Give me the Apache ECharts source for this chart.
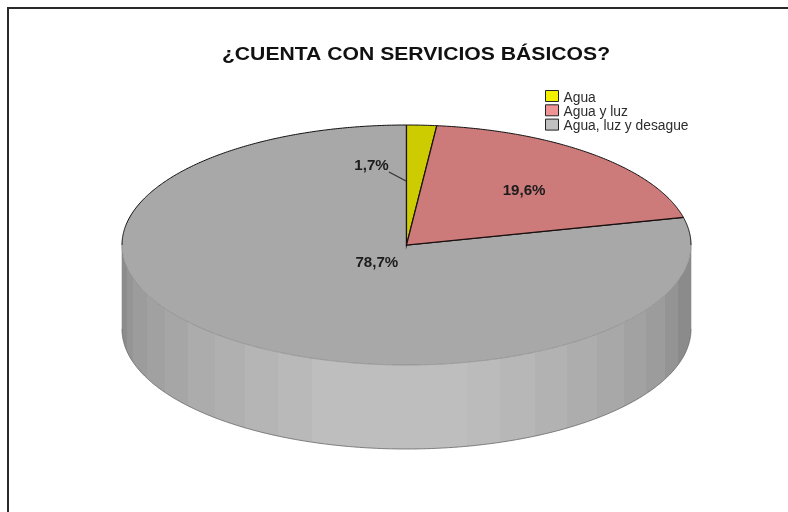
<!DOCTYPE html>
<html>
<head>
<meta charset="utf-8">
<style>html,body{margin:0;padding:0;background:#fff}#chart{width:788px;height:512px}</style>
<script src="https://cdn.jsdelivr.net/npm/echarts@6/dist/echarts.min.js"></script>
</head>
<body>
<div id="chart"></div>
<script>
// Survey answers and their shares, in percent
const categories = ['Agua', 'Agua y luz', 'Agua, luz y desague'];
const shares = [1.7, 19.6, 78.7];
const chartTitle = '¿CUENTA CON SERVICIOS BÁSICOS?';
const legendColors = ['#f2f200', '#f09595', '#c0c0c0'];
const faceColors = ['#cccc00', '#cc7a7a', '#a8a8a8'];

// Tilted disc geometry: top ellipse plus extruded wall
const disc = { cx: 406.5, cy: 245, rx: 284.5, ry: 120, depth: 84 };
const textColor = '#1c1c1c';
const fontFamily = '"Liberation Sans", Arial, sans-serif';

// Vertical shading strips on the wall, as [right edge x, grey]
const wallBands = [
  [127, '#8c8c8c'], [133, '#959595'], [147, '#9c9c9c'], [165, '#a1a1a1'], [188, '#a6a6a6'],
  [215, '#acacac'], [245, '#b0b0b0'], [278, '#b5b5b5'], [312, '#b9b9b9'],
  [467, '#bebebe'], [500, '#bbbbbb'], [535, '#b7b7b7'], [567, '#b2b2b2'],
  [597, '#adadad'], [624, '#a8a8a8'], [646, '#a2a2a2'], [665, '#9c9c9c'],
  [678, '#949494'], [692, '#8b8b8b']
];

function wallGradient() {
  const x0 = disc.cx - disc.rx, w = 2 * disc.rx;
  const stops = [];
  let from = 0;
  wallBands.forEach(([right, grey]) => {
    const to = Math.min(1, (right - x0) / w);
    stops.push({ offset: from, color: grey }, { offset: to, color: grey });
    from = to;
  });
  return { type: 'linear', x: x0, y: 0, x2: x0 + w, y2: 0, global: true, colorStops: stops };
}

// Point on the ellipse, angle in degrees clockwise from the top
function rim(deg, r = 1, dy = 0) {
  const t = deg * Math.PI / 180;
  return [disc.cx + disc.rx * r * Math.sin(t), disc.cy - disc.ry * r * Math.cos(t) + dy];
}
function arc(a, b, dy = 0) {
  const pts = [];
  const n = Math.max(2, Math.ceil(Math.abs(b - a) * 2));
  for (let i = 0; i <= n; i++) pts.push(rim(a + (b - a) * i / n, 1, dy));
  return pts;
}
function line(points, stroke, lineWidth) {
  return { type: 'polyline', shape: { points }, style: { fill: null, stroke, lineWidth } };
}
// Bold text, widened a little around its centre
function label(text, x, y, fontSize = 14, widen = 1.08) {
  return {
    type: 'text',
    x, y,
    scaleX: widen,
    style: {
      text, x: 0, y: 0, align: 'center', verticalAlign: 'middle', fill: textColor,
      font: 'bold ' + fontSize + 'px ' + fontFamily
    }
  };
}
const percent = v => v.toFixed(1).replace('.', ',') + '%';

function sliceRenderer(index) {
  const start = shares.slice(0, index).reduce((s, v) => s + v, 0);
  return function (params, api) {
    const value = api.value(0);
    const a = start * 3.6, b = (start + value) * 3.6, mid = (a + b) / 2;
    const children = [];

    // Wall: only the front half of the disc is visible
    const wa = Math.max(a, 90), wb = Math.min(b, 270);
    if (wb > wa) {
      const topEdge = arc(wa, wb), lowEdge = arc(wa, wb, disc.depth);
      children.push({
        type: 'polygon',
        shape: { points: topEdge.concat(lowEdge.slice().reverse()) },
        style: { fill: wallGradient(), stroke: null }
      });
      children.push(line(lowEdge, '#666', 0.8));
      children.push(line([rim(wa), rim(wa, 1, disc.depth)], '#8a8a8a', 0.6));
      children.push(line([rim(wb), rim(wb, 1, disc.depth)], '#8a8a8a', 0.6));
    }

    // Top face
    const centre = [disc.cx, disc.cy];
    children.push({
      type: 'polygon',
      shape: { points: [centre].concat(arc(a, b)) },
      style: { fill: faceColors[index], stroke: null }
    });
    if (wb > wa) children.push(line(arc(wa, wb), '#808080', 0.6));
    if (a < 90) children.push(line(arc(a, Math.min(b, 90)), '#111', 1));
    if (b > 270) children.push(line(arc(Math.max(a, 270), b), '#111', 1));
    children.push(line([rim(a), centre, rim(b)], '#1a1010', 1.2));

    // Value label
    const text = percent(value);
    if (index === 0) {
      children.push(line([[disc.cx - 17.5, disc.cy - 73], [disc.cx - 0.5, disc.cy - 64]], '#333', 1.3));
      children.push(label(text, disc.cx - 35, disc.cy - 79));
    } else {
      const [x, y] = rim(mid, index === 1 ? 0.625 : 0.168, 2);
      children.push(label(text, x, y));
    }
    return { type: 'group', children };
  };
}

const chart = echarts.init(document.getElementById('chart'), null, { renderer: 'canvas' });
chart.setOption({
  animation: false,
  backgroundColor: '#ffffff',
  legend: {
    data: categories,
    orient: 'vertical',
    left: 545, top: 87,
    padding: 0,
    itemGap: -3.7,
    itemWidth: 13,
    itemHeight: 11,
    icon: 'rect',
    selectedMode: false,
    itemStyle: { borderColor: '#222', borderWidth: 1 },
    formatter: '{t|{name}}',
    textStyle: {
      rich: {
        t: { fontFamily, fontSize: 13.8, lineHeight: 11.3, padding: [4, 0, 0, 0], color: '#2c2c2c' }
      }
    }
  },
  graphic: [
    { type: 'line', shape: { x1: 7, y1: 8, x2: 788, y2: 8 }, style: { stroke: '#2a2a2a', lineWidth: 2 } },
    { type: 'line', shape: { x1: 8, y1: 8, x2: 8, y2: 512 }, style: { stroke: '#2a2a2a', lineWidth: 2 } },
    {
      type: 'text', x: 416, y: 55, scaleX: 1.175,
      style: {
        text: chartTitle, x: 0, y: 0, align: 'center', verticalAlign: 'middle',
        fill: '#111', font: 'bold 18px ' + fontFamily
      }
    }
  ],
  series: categories.map((name, i) => ({
    type: 'custom',
    name,
    coordinateSystem: 'none',
    z: i === 2 ? 1 : 2,
    silent: true,
    itemStyle: { color: legendColors[i] },
    data: [[shares[i]]],
    renderItem: sliceRenderer(i)
  }))
});
</script>
</body>
</html>
